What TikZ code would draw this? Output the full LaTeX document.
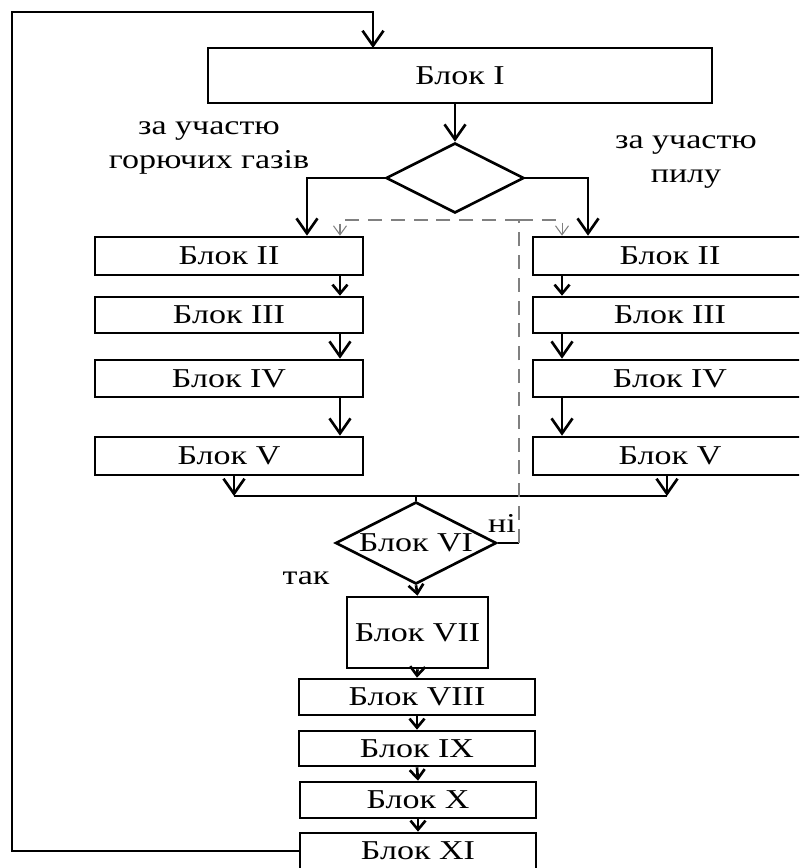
\documentclass[tikz,border=0pt]{standalone}
\usepackage{fontspec}
\setmainfont{Liberation Serif}[FakeStretch=1.25]
\usepackage{tikz}
\usetikzlibrary{shapes.geometric}
\usetikzlibrary{arrows.meta}

\begin{document}
\begin{tikzpicture}[x=0.02cm, y=-0.02cm, line width=1.5pt,
        font=\fontsize{15.5}{19}\selectfont,
        >={Straight Barb[length=3mm, width=4.2mm]},
        blok/.style={draw, rectangle, inner sep=0pt},
        romb/.style={draw, diamond, inner sep=0pt},
        kurz/.style={-{Straight Barb[length=1.8mm, width=3mm]}},
        strich/.style={dashed, gray, line width=0.6pt, dash pattern=on 8pt off 5pt,
            -{Straight Barb[length=1.8mm, width=2.6mm]}}]
            \clip (0, 0) rectangle (799, 868);
            \node [blok, minimum width = 10.08cm, minimum height = 1.1cm] (b1) at (460, 75.5) {Блок I};
            \node [romb, minimum width = 2.76cm, minimum height = 1.4cm] (d1) at (455, 178) {};
            \node [align = center] (gaz) at (209, 148) {за участю\\горючих газів};
            \node [align = center] (pyl) at (686, 162) {за участю\\пилу};
            \node [blok, minimum width = 5.36cm, minimum height = 0.76cm] (l2) at (229, 256) {Блок II};
            \node [blok, minimum width = 5.36cm, minimum height = 0.72cm] (l3) at (229, 315) {Блок III};
            \node [blok, minimum width = 5.36cm, minimum height = 0.74cm] (l4) at (229, 378.5) {Блок IV};
            \node [blok, minimum width = 5.36cm, minimum height = 0.76cm] (l5) at (229, 456) {Блок V};
            \node [blok, minimum width = 5.48cm, minimum height = 0.76cm] (r2) at (670, 256) {Блок II};
            \node [blok, minimum width = 5.48cm, minimum height = 0.72cm] (r3) at (670, 315) {Блок III};
            \node [blok, minimum width = 5.48cm, minimum height = 0.74cm] (r4) at (670, 378.5) {Блок IV};
            \node [blok, minimum width = 5.48cm, minimum height = 0.76cm] (r5) at (670, 456) {Блок V};
            \node [romb, minimum width = 3.22cm, minimum height = 1.64cm,
                label = {[inner sep = 0pt]center:Блок VI}] (d6) at (416, 543) {};
            \node (ni) at (502, 523) {ні};
            \node (tak) at (306, 578) {так};
            \node [blok, minimum width = 2.82cm, minimum height = 1.42cm] (b7) at (417.5, 632.5) {Блок VII};
            \node [blok, minimum width = 4.72cm, minimum height = 0.72cm] (b8) at (417, 697) {Блок VIII};
            \node [blok, minimum width = 4.72cm, minimum height = 0.70cm] (b9) at (417, 748.5) {Блок IX};
            \node [blok, minimum width = 4.72cm, minimum height = 0.72cm] (b10) at (418, 800) {Блок X};
            \node [blok, minimum width = 4.72cm, minimum height = 0.72cm] (b11) at (418, 851) {Блок XI};
            \coordinate (ecke) at (12, 12);
            \coordinate (ein) at (373, 48);
            \coordinate (mitte) at (416, 496);
            \coordinate (nv) at (519, 543);
            \coordinate (nt) at (519, 220);
            \draw [->] (b11.west) -| (ecke) -| (ein);
            \draw [->] (b1.south -| d1.north) -- (d1.north);
            \draw [->] (d1.west) -| ([xshift = 1.56cm]l2.north);
            \draw [->] (d1.east) -| ([xshift = -1.64cm]r2.north);
            \draw [kurz] ([xshift = 2.22cm]l2.south) -- ([xshift = 2.22cm]l3.north);
            \draw [->] ([xshift = 2.22cm]l3.south) -- ([xshift = 2.22cm]l4.north);
            \draw [->] ([xshift = 2.22cm]l4.south) -- ([xshift = 2.22cm]l5.north);
            \draw [kurz] ([xshift = -2.16cm]r2.south) -- ([xshift = -2.16cm]r3.north);
            \draw [->] ([xshift = -2.16cm]r3.south) -- ([xshift = -2.16cm]r4.north);
            \draw [->] ([xshift = -2.16cm]r4.south) -- ([xshift = -2.16cm]r5.north);
            \draw [->] ([xshift = 0.1cm]l5.south) -- ([xshift = 0.1cm]l5.south |- mitte);
            \draw [->] ([xshift = -0.06cm]r5.south) -- ([xshift = -0.06cm]r5.south |- mitte);
            \draw ([xshift = 0.1cm]l5.south |- mitte) -- ([xshift = -0.06cm]r5.south |- mitte);
            \draw (mitte) -- (d6.north);
            \draw (d6.east) -- (nv);
            \draw [dashed, gray, line width = 0.6pt, dash pattern = on 8pt off 5pt] (nv) -- (nt);
            \draw [strich] (nt) -| ([xshift = 2.22cm]l2.north);
            \draw [strich] (nt) -| ([xshift = -2.16cm]r2.north);
            \draw [kurz] (d6.south) -- (b7.north);
            \draw [kurz] (b7.south) -- (b8.north);
            \draw [kurz] (b8.south) -- (b9.north);
            \draw [kurz] (b9.south) -- (b10.north);
            \draw [kurz] (b10.south) -- (b11.north);
        \end{tikzpicture}
\end{document}
